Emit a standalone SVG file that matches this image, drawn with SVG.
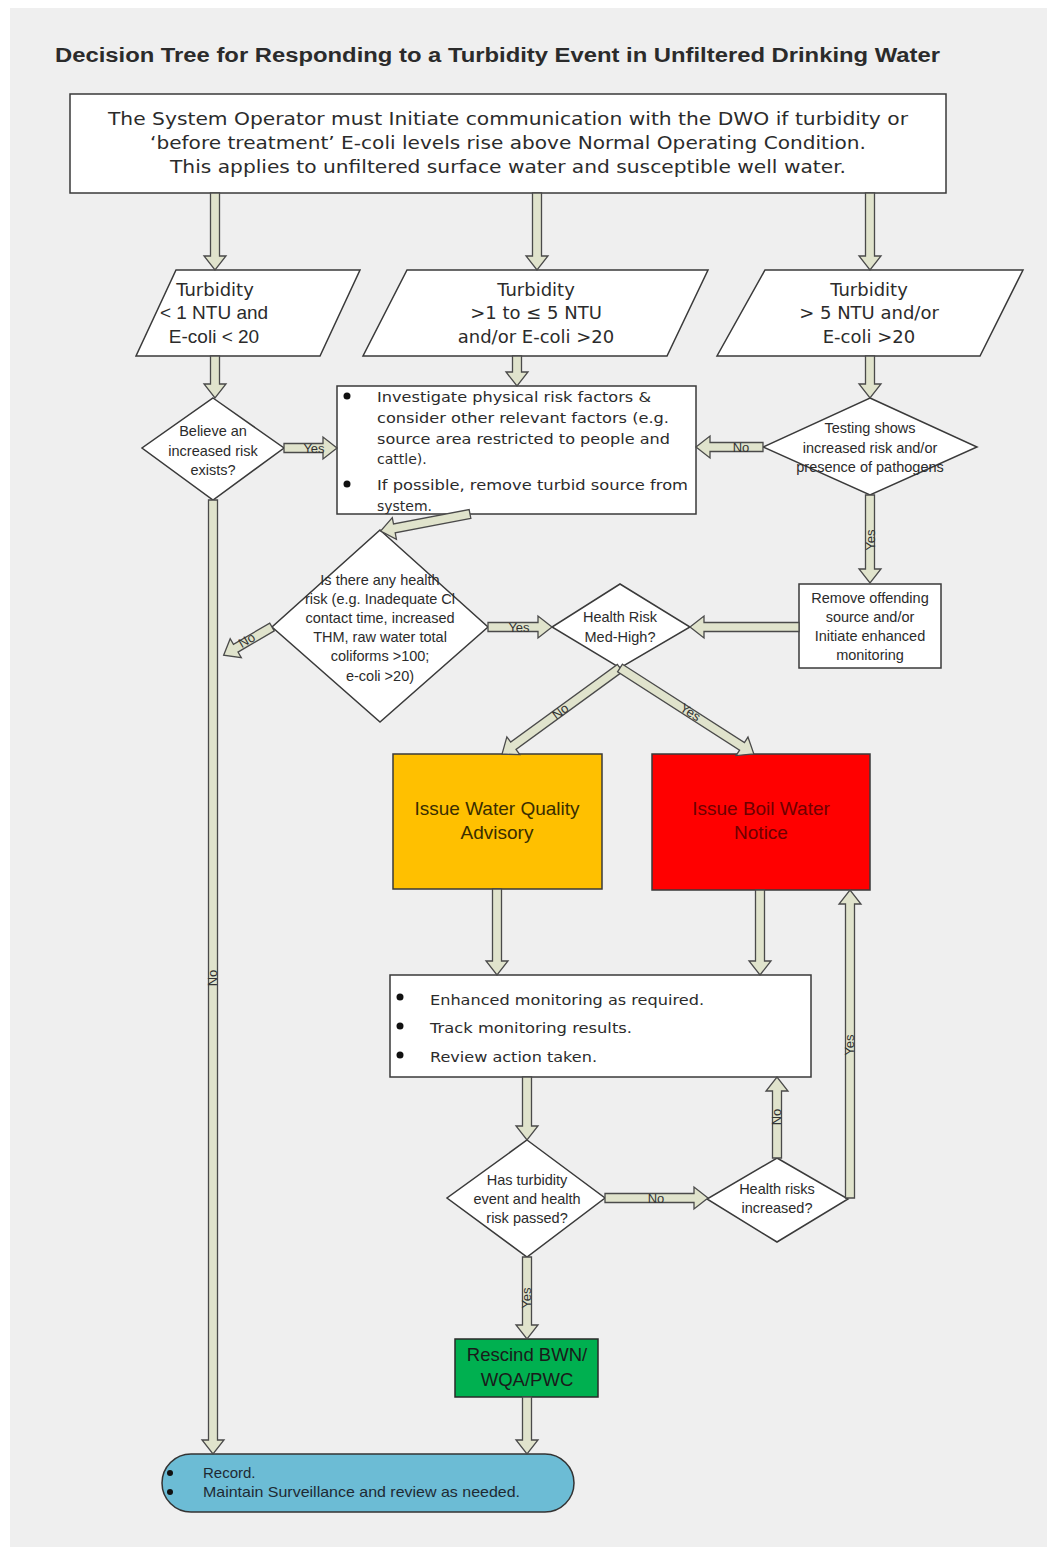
<svg xmlns="http://www.w3.org/2000/svg" width="1055" height="1549" viewBox="0 0 1055 1549">
<style>
.bg{fill:#efefef}
.box{fill:#ffffff;stroke:#3a3a3a;stroke-width:1.5}
.arr{fill:#e0e3cc;stroke:#4a4a4a;stroke-width:1.3;stroke-linejoin:miter}
.t{font-family:"Liberation Sans",Arial,sans-serif;fill:#2b2b2b}
.v{font-family:"DejaVu Sans",Verdana,sans-serif;fill:#2b2b2b}
.lbl{font-family:"Liberation Sans",Arial,sans-serif;font-size:13px;fill:#333}
.mid{text-anchor:middle}
.bul{fill:#111}
</style>
<rect x="0" y="0" width="1055" height="1549" fill="#ffffff"/>
<rect class="bg" x="10" y="8" width="1037" height="1539"/>
<text class="t" x="55" y="62" font-size="20" font-weight="bold" textLength="885" lengthAdjust="spacingAndGlyphs" fill="#1a1a1a">Decision Tree for Responding to a Turbidity Event in Unfiltered Drinking Water</text>

<g id="start">
<rect class="box" x="70" y="94" width="876" height="99"/>
<text class="v mid" x="508" y="125" font-size="18" textLength="800" lengthAdjust="spacingAndGlyphs">The System Operator must Initiate communication with the DWO if turbidity or</text>
<text class="v mid" x="508" y="149" font-size="18" textLength="716" lengthAdjust="spacingAndGlyphs">‘before treatment’ E-coli levels rise above Normal Operating Condition.</text>
<text class="v mid" x="508" y="173" font-size="18" textLength="676" lengthAdjust="spacingAndGlyphs">This applies to unfiltered surface water and susceptible well water.</text>
</g>

<g id="p1">
<polygon class="box" points="176,270 360,270 320,356 136,356"/>
<text class="v mid" x="215" y="296" font-size="18">Turbidity</text>
<text class="t mid" x="214" y="319" font-size="19">&lt; 1 NTU and</text>
<text class="t mid" x="214" y="343" font-size="19">E-coli &lt; 20</text>
</g>
<g id="p2">
<polygon class="box" points="407,270 708,270 667,356 363,356"/>
<text class="v mid" x="536" y="296" font-size="18">Turbidity</text>
<text class="v mid" x="536" y="319" font-size="18">&gt;1 to ≤ 5 NTU</text>
<text class="v mid" x="536" y="343" font-size="18">and/or E-coli &gt;20</text>
</g>
<g id="p3">
<polygon class="box" points="765,270 1023,270 980,356 717,356"/>
<text class="v mid" x="869" y="296" font-size="18">Turbidity</text>
<text class="v mid" x="869" y="319" font-size="18">&gt; 5 NTU and/or</text>
<text class="v mid" x="869" y="343" font-size="18">E-coli &gt;20</text>
</g>

<g id="d1">
<polygon class="box" points="213,398 284,448 213,500 142,448"/>
<text class="t mid" x="213" y="436" font-size="14.5">Believe an</text>
<text class="t mid" x="213" y="456" font-size="14.5">increased risk</text>
<text class="t mid" x="213" y="475" font-size="14.5">exists?</text>
</g>

<g id="investigate">
<rect class="box" x="337" y="386" width="359" height="128"/>
<circle class="bul" cx="347" cy="396" r="3.5"/>
<circle class="bul" cx="347" cy="484" r="3.5"/>
<text class="v" x="377" y="402" font-size="14" textLength="274" lengthAdjust="spacingAndGlyphs">Investigate physical risk factors &amp;</text>
<text class="v" x="377" y="423" font-size="14" textLength="292" lengthAdjust="spacingAndGlyphs">consider other relevant factors (e.g.</text>
<text class="v" x="377" y="444" font-size="14" textLength="293" lengthAdjust="spacingAndGlyphs">source area restricted to people and</text>
<text class="v" x="377" y="464" font-size="14">cattle).</text>
<text class="v" x="377" y="490" font-size="14" textLength="311" lengthAdjust="spacingAndGlyphs">If possible, remove turbid source from</text>
<text class="v" x="377" y="511" font-size="14">system.</text>
</g>

<g id="d3">
<polygon class="box" points="870,398 977,447 870,495 763,447"/>
<text class="t mid" x="870" y="433" font-size="14.5">Testing shows</text>
<text class="t mid" x="870" y="453" font-size="14.5">increased risk and/or</text>
<text class="t mid" x="870" y="472" font-size="14.5">presence of pathogens</text>
</g>

<g id="remove">
<rect class="box" x="799" y="584" width="142" height="84"/>
<text class="t mid" x="870" y="603" font-size="14.5">Remove offending</text>
<text class="t mid" x="870" y="622" font-size="14.5">source and/or</text>
<text class="t mid" x="870" y="641" font-size="14.5">Initiate enhanced</text>
<text class="t mid" x="870" y="660" font-size="14.5">monitoring</text>
</g>

<g id="d4">
<polygon class="box" points="380,530 488,627 380,722 272,627"/>
<text class="t mid" x="380" y="585" font-size="14.5">Is there any health</text>
<text class="t mid" x="380" y="604" font-size="14.5">risk (e.g. Inadequate Cl</text>
<text class="t mid" x="380" y="623" font-size="14.5">contact time, increased</text>
<text class="t mid" x="380" y="642" font-size="14.5">THM, raw water total</text>
<text class="t mid" x="380" y="661" font-size="14.5">coliforms &gt;100;</text>
<text class="t mid" x="380" y="681" font-size="14.5">e-coli &gt;20)</text>
</g>

<g id="d5">
<polygon class="box" points="620,584 690,627 620,668 552,627"/>
<text class="t mid" x="620" y="622" font-size="14.5">Health Risk</text>
<text class="t mid" x="620" y="642" font-size="14.5">Med-High?</text>
</g>

<g id="wqa">
<rect x="393" y="754" width="209" height="135" fill="#ffc000" stroke="#3a3a3a" stroke-width="1.5"/>
<text class="t mid" x="497" y="815" font-size="19" style="fill:#3a2e00">Issue Water Quality</text>
<text class="t mid" x="497" y="839" font-size="19" style="fill:#3a2e00">Advisory</text>
</g>

<g id="bwn">
<rect x="652" y="754" width="218" height="136" fill="#ff0000" stroke="#3a3a3a" stroke-width="1.5"/>
<text class="t mid" x="761" y="815" font-size="19" style="fill:#6e0000">Issue Boil Water</text>
<text class="t mid" x="761" y="839" font-size="19" style="fill:#6e0000">Notice</text>
</g>

<g id="monitor">
<rect class="box" x="390" y="975" width="421" height="102"/>
<circle class="bul" cx="400" cy="997" r="3.5"/>
<circle class="bul" cx="400" cy="1026" r="3.5"/>
<circle class="bul" cx="400" cy="1055" r="3.5"/>
<text class="v" x="430" y="1005" font-size="14.5" textLength="274" lengthAdjust="spacingAndGlyphs">Enhanced monitoring as required.</text>
<text class="v" x="430" y="1033" font-size="14.5" textLength="202" lengthAdjust="spacingAndGlyphs">Track monitoring results.</text>
<text class="v" x="430" y="1062" font-size="14.5" textLength="167" lengthAdjust="spacingAndGlyphs">Review action taken.</text>
</g>

<g id="d6">
<polygon class="box" points="527,1140 605,1198 527,1257 447,1198"/>
<text class="t mid" x="527" y="1185" font-size="14.5">Has turbidity</text>
<text class="t mid" x="527" y="1204" font-size="14.5">event and health</text>
<text class="t mid" x="527" y="1223" font-size="14.5">risk passed?</text>
</g>

<g id="d7">
<polygon class="box" points="777,1158 848,1199 777,1242 707,1199"/>
<text class="t mid" x="777" y="1194" font-size="14.5">Health risks</text>
<text class="t mid" x="777" y="1213" font-size="14.5">increased?</text>
</g>

<g id="rescind">
<rect x="455" y="1339" width="143" height="58" fill="#00b050" stroke="#2a2a2a" stroke-width="1.5"/>
<text class="t mid" x="527" y="1361" font-size="18.5" style="fill:#1a1a1a">Rescind BWN/</text>
<text class="t mid" x="527" y="1386" font-size="18.5" style="fill:#1a1a1a">WQA/PWC</text>
</g>

<g id="record">
<rect x="162" y="1454" width="412" height="58" rx="29" ry="29" fill="#6cbcd5" stroke="#333" stroke-width="1.5"/>
<circle class="bul" cx="170" cy="1473" r="3"/>
<circle class="bul" cx="170" cy="1492" r="3"/>
<text class="t" x="203" y="1478" font-size="15" style="fill:#1e2a33">Record.</text>
<text class="t" x="203" y="1497" font-size="15" textLength="317" lengthAdjust="spacingAndGlyphs" style="fill:#1e2a33">Maintain Surveillance and review as needed.</text>
</g>

<g id="connectors">
<polygon class="arr" transform="translate(215 193) rotate(90)" points="0,-4.5 63,-4.5 63,-11 77,0 63,11 63,4.5 0,4.5"/>
<polygon class="arr" transform="translate(537 193) rotate(90)" points="0,-4.5 63,-4.5 63,-11 77,0 63,11 63,4.5 0,4.5"/>
<polygon class="arr" transform="translate(870 193) rotate(90)" points="0,-4.5 63,-4.5 63,-11 77,0 63,11 63,4.5 0,4.5"/>
<polygon class="arr" transform="translate(215 356) rotate(90)" points="0,-4.5 28,-4.5 28,-11 42,0 28,11 28,4.5 0,4.5"/>
<polygon class="arr" transform="translate(517 356) rotate(90)" points="0,-4.5 16,-4.5 16,-11 30,0 16,11 16,4.5 0,4.5"/>
<polygon class="arr" transform="translate(870 356) rotate(90)" points="0,-4.5 28,-4.5 28,-11 42,0 28,11 28,4.5 0,4.5"/>
<polygon class="arr" transform="translate(284 448)" points="0,-4.5 39,-4.5 39,-11 53,0 39,11 39,4.5 0,4.5"/>
<polygon class="arr" transform="translate(763 447) rotate(180)" points="0,-4.5 53,-4.5 53,-11 67,0 53,11 53,4.5 0,4.5"/>
<polygon class="arr" transform="translate(870 495) rotate(90)" points="0,-4.5 74,-4.5 74,-11 88,0 74,11 74,4.5 0,4.5"/>
<polygon class="arr" transform="translate(799 627) rotate(180)" points="0,-4.5 95,-4.5 95,-11 109,0 95,11 95,4.5 0,4.5"/>
<polygon class="arr" transform="translate(470 514) rotate(169.2)" points="0,-4.5 77,-4.5 77,-11 91,0 77,11 77,4.5 0,4.5"/>
<polygon class="arr" transform="translate(488 627)" points="0,-4.5 50,-4.5 50,-11 64,0 50,11 50,4.5 0,4.5"/>
<polygon class="arr" transform="translate(272 627) rotate(149.7)" points="0,-4.5 42,-4.5 42,-11 56,0 42,11 42,4.5 0,4.5"/>
<polygon class="arr" transform="translate(213 500) rotate(90)" points="0,-4.5 940,-4.5 940,-11 954,0 940,11 940,4.5 0,4.5"/>
<polygon class="arr" transform="translate(620 668) rotate(143.9)" points="0,-4.5 132,-4.5 132,-11 146,0 132,11 132,4.5 0,4.5"/>
<polygon class="arr" transform="translate(620 668) rotate(32.7)" points="0,-4.5 145,-4.5 145,-11 159,0 145,11 145,4.5 0,4.5"/>
<polygon class="arr" transform="translate(497 889) rotate(90)" points="0,-4.5 72,-4.5 72,-11 86,0 72,11 72,4.5 0,4.5"/>
<polygon class="arr" transform="translate(760 890) rotate(90)" points="0,-4.5 71,-4.5 71,-11 85,0 71,11 71,4.5 0,4.5"/>
<polygon class="arr" transform="translate(527 1077) rotate(90)" points="0,-4.5 49,-4.5 49,-11 63,0 49,11 49,4.5 0,4.5"/>
<polygon class="arr" transform="translate(605 1198)" points="0,-4.5 89,-4.5 89,-11 103,0 89,11 89,4.5 0,4.5"/>
<polygon class="arr" transform="translate(777 1158) rotate(-90)" points="0,-4.5 67,-4.5 67,-11 81,0 67,11 67,4.5 0,4.5"/>
<polygon class="arr" transform="translate(850 1198) rotate(-90)" points="0,-4.5 294,-4.5 294,-11 308,0 294,11 294,4.5 0,4.5"/>
<polygon class="arr" transform="translate(527 1257) rotate(90)" points="0,-4.5 68,-4.5 68,-11 82,0 68,11 68,4.5 0,4.5"/>
<polygon class="arr" transform="translate(527 1397) rotate(90)" points="0,-4.5 43,-4.5 43,-11 57,0 43,11 43,4.5 0,4.5"/>

<text class="lbl mid" x="314" y="453">Yes</text>
<text class="lbl mid" x="741" y="452">No</text>
<text class="lbl mid" transform="translate(875 540) rotate(-90)">Yes</text>
<text class="lbl mid" x="519" y="632">Yes</text>
<text class="lbl mid" transform="translate(249 644) rotate(-30.3)">No</text>
<text class="lbl mid" transform="translate(217 978) rotate(-90)">No</text>
<text class="lbl mid" transform="translate(563 715) rotate(-36.1)">No</text>
<text class="lbl mid" transform="translate(688 716) rotate(32.7)">Yes</text>
<text class="lbl mid" x="656" y="1203">No</text>
<text class="lbl mid" transform="translate(781 1117) rotate(-90)">No</text>
<text class="lbl mid" transform="translate(854 1045) rotate(-90)">Yes</text>
<text class="lbl mid" transform="translate(531 1298) rotate(-90)">Yes</text>
</g>
</svg>
